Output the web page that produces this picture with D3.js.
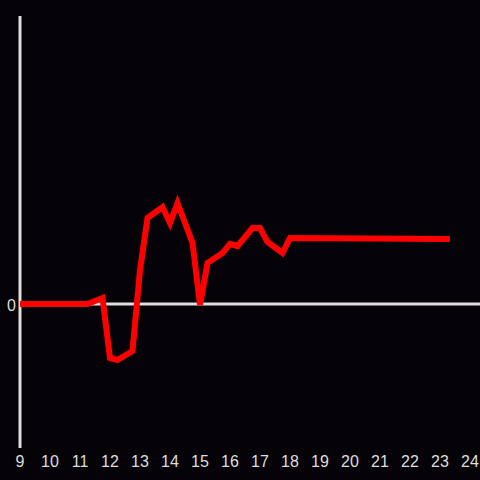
<!DOCTYPE html>
<html>
<head>
<meta charset="utf-8">
<script src="https://cdn.jsdelivr.net/npm/d3@7"></script>
<style>
	html, body { margin: 0; padding: 0; background: #050307; }
</style>
</head>
<body>
<div id="draw"></div>
<script>
var hours = [9, 11.25, 11.75, 12, 12.25, 12.75, 13, 13.25, 13.75, 14, 14.25, 14.75, 15, 15.25, 15.75, 16, 16.25, 16.75, 17, 17.25, 17.75, 18, 23.33];
var values = [0, 0, 6, -54, -56, -47, 34, 86, 97, 81, 101, 61, -1, 41, 51, 60, 58, 76, 76, 62, 51, 66, 65];
var xTicks = [9, 10, 11, 12, 13, 14, 15, 16, 17, 18, 19, 20, 21, 22, 23, 24];
var yTicks = [0];

function drawChart() {
	var width = 480, height = 480;

	var x = d3.scaleLinear()
		.domain([9, 24])
		.range([20, 470]);
	var y = d3.scaleLinear()
		.domain([-144, 288])
		.range([448, 16]);

	var svg = d3.select("#draw").append("svg")
		.attr("width", width)
		.attr("height", height)
		.style("display", "block")
		.style("background", "#050307");

	// y axis line
	svg.append("line")
		.attr("x1", x(9))
		.attr("x2", x(9))
		.attr("y1", y(288))
		.attr("y2", y(-144))
		.attr("stroke", "#dedede")
		.attr("stroke-width", 3);

	// zero line
	svg.selectAll(".zero")
		.data(yTicks)
		.enter()
		.append("line")
		.attr("class", "zero")
		.attr("x1", x(9))
		.attr("x2", width)
		.attr("y1", function(d){ return y(d); })
		.attr("y2", function(d){ return y(d); })
		.attr("stroke", "#dedede")
		.attr("stroke-width", 3);

	svg.selectAll(".ylabel")
		.data(yTicks)
		.enter()
		.append("text")
		.attr("class", "ylabel")
		.attr("x", x(9) - 4)
		.attr("y", function(d){ return y(d) + 1; })
		.attr("dy", "0.35em")
		.attr("text-anchor", "end")
		.attr("fill", "#dedede")
		.style("font-family", "'Liberation Sans', Arial, sans-serif")
		.style("font-size", "16px")
		.text(function(d){ return d; });

	svg.selectAll(".xlabel")
		.data(xTicks)
		.enter()
		.append("text")
		.attr("class", "xlabel")
		.attr("x", function(d){ return x(d); })
		.attr("y", 461)
		.attr("dy", "0.35em")
		.attr("text-anchor", "middle")
		.attr("fill", "#dedede")
		.style("font-family", "'Liberation Sans', Arial, sans-serif")
		.style("font-size", "16px")
		.text(function(d){ return d; });

	var line = d3.line()
		.x(function(d, i){ return x(hours[i]); })
		.y(function(d){ return y(d); });

	svg.append("path")
		.datum(values)
		.attr("d", line)
		.attr("fill", "none")
		.attr("stroke", "#ff0000")
		.attr("stroke-width", 6)
		.attr("stroke-linejoin", "miter");
}

drawChart();
</script>
</body>
</html>
